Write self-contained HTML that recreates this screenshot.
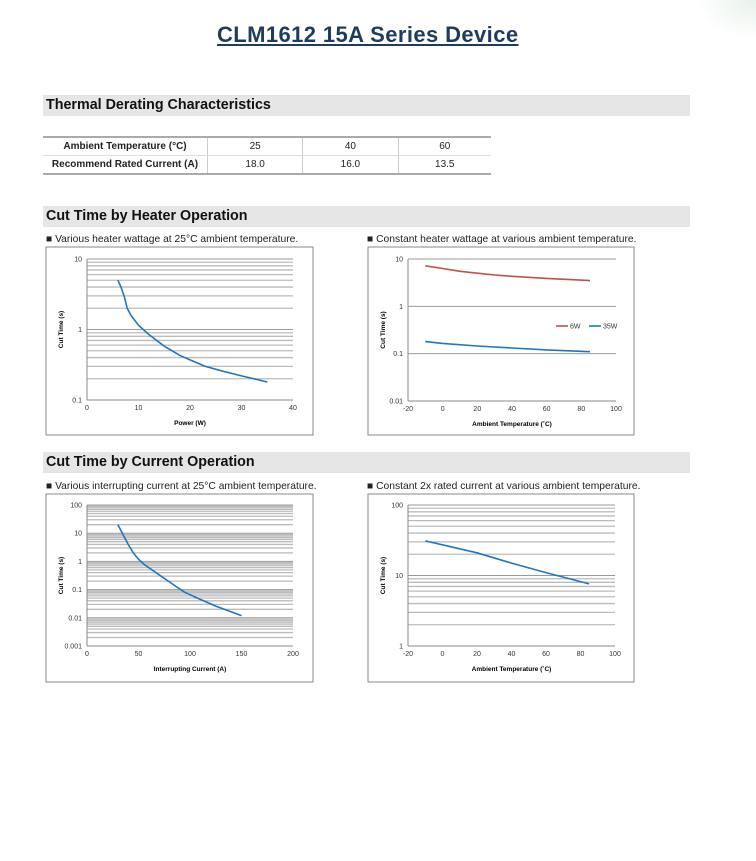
<!DOCTYPE html>
<html><head><meta charset="utf-8"><style>
body{margin:0;width:756px;height:861px;background:#fff;position:relative;overflow:hidden;font-family:"Liberation Sans",sans-serif;}
.a{position:absolute}
.title{left:217px;top:22px;font-size:22px;font-weight:bold;color:#1f3b5e;text-decoration:underline;letter-spacing:0.4px}
.bar{left:43px;width:647px;height:21px;background:#e6e6e6;font-size:14.3px;font-weight:bold;color:#111;line-height:21px;padding-left:3px;box-sizing:border-box}
.sub{font-size:10.3px;color:#222}
table{border-collapse:collapse;font-size:10px;position:absolute;left:43px;top:136px;width:448px}
td{height:17px;text-align:center;border-left:1px solid #ccc;padding:0;color:#222}
td:first-child{border-left:none;font-weight:bold;width:164px}
tr:first-child td{border-top:2px solid #aaa;border-bottom:1px solid #ddd}
tr:last-child td{border-bottom:2px solid #aaa}
svg{position:absolute;left:0;top:0}
</style></head><body>
<div class="a" style="right:0;top:0;width:60px;height:40px;background:radial-gradient(ellipse at 100% 0%,#e6f2ea 0%,#fff 70%)"></div>
<div class="a title">CLM1612 15A Series Device</div>
<div class="a bar" style="top:95px">Thermal Derating Characteristics</div>
<table><tr><td>Ambient Temperature (°C)</td><td>25</td><td>40</td><td>60</td></tr>
<tr><td>Recommend Rated Current (A)</td><td>18.0</td><td>16.0</td><td>13.5</td></tr></table>
<div class="a bar" style="top:206px">Cut Time by Heater Operation</div>
<div class="a sub" style="left:46px;top:234px">■ Various heater wattage at 25°C ambient temperature.</div>
<div class="a sub" style="left:367px;top:234px">■ Constant heater wattage at various ambient temperature.</div>
<div class="a bar" style="top:452px">Cut Time by Current Operation</div>
<div class="a sub" style="left:46px;top:481px">■ Various interrupting current at 25°C ambient temperature.</div>
<div class="a sub" style="left:367px;top:481px">■ Constant 2x rated current at various ambient temperature.</div>
<svg id="s" width="756" height="861" font-family="Liberation Sans, sans-serif"></svg>
<script>
var s=document.getElementById('s'),h='';
function chart(o){
 h+='<rect x="'+o.bx+'" y="'+o.by+'" width="'+o.bw+'" height="'+o.bh+'" fill="none" stroke="#888"/>';
 var X=function(v){return o.x0+(v-o.xmin)/(o.xmax-o.xmin)*(o.x1-o.x0)};
 var Y=function(v){return o.y0+(o.lmax-Math.log10(v))/(o.lmax-o.lmin)*(o.y1-o.y0)};
 for(var d=o.lmin;d<o.lmax;d++){for(var m=1;m<10;m++){var y=Y(m*Math.pow(10,d));
  if(o.minor||m==1)h+='<line x1="'+o.x0+'" x2="'+o.x1+'" y1="'+y+'" y2="'+y+'" stroke="'+(m==1?'#999':'#bbb')+'" stroke-width="'+(m==1?1:1.3)+'"/>';}}
 h+='<line x1="'+o.x0+'" x2="'+o.x1+'" y1="'+o.y0+'" y2="'+o.y0+'" stroke="#999"/>';
 h+='<line x1="'+o.x0+'" x2="'+o.x0+'" y1="'+o.y0+'" y2="'+o.y1+'" stroke="#888"/><line x1="'+o.x0+'" x2="'+o.x1+'" y1="'+o.y1+'" y2="'+o.y1+'" stroke="#888"/>';
 for(var d=o.lmin;d<=o.lmax;d++){var v=Math.pow(10,d);h+='<text x="'+(o.x0-5)+'" y="'+(Y(v)+2.5)+'" font-size="7" text-anchor="end" fill="#333">'+(+v.toFixed(3))+'</text>';}
 o.xt.forEach(function(v){h+='<text x="'+X(v)+'" y="'+(o.y1+10)+'" font-size="7" text-anchor="middle" fill="#333">'+v+'</text>';});
 h+='<text x="'+((o.x0+o.x1)/2)+'" y="'+(o.y1+25)+'" font-size="6.5" font-weight="bold" text-anchor="middle">'+o.xl+'</text>';
 var cy=(o.y0+o.y1)/2;h+='<text transform="translate('+(o.bx+17)+','+cy+') rotate(-90)" font-size="6.5" font-weight="bold" text-anchor="middle">Cut Time (s)</text>';
 o.series.forEach(function(sr){var p=sr.p.map(function(q){return X(q[0]).toFixed(1)+','+Y(q[1]).toFixed(1)}).join(' ');
  h+='<polyline points="'+p+'" fill="none" stroke="'+sr.c+'" stroke-width="1.6" stroke-linejoin="round"/>';});
}
chart({bx:46,by:247,bw:267,bh:188,x0:87,x1:293,y0:259,y1:400,xmin:0,xmax:40,lmin:-1,lmax:1,minor:1,xt:[0,10,20,30,40],xl:'Power (W)',
 series:[{c:'#1f77c0',p:[[6,5],[6.6,4],[7.2,3],[7.8,2],[8.5,1.6],[10,1.15],[12,0.85],[15,0.58],[18,0.43],[20,0.37],[23,0.3],[26,0.26],[30,0.22],[35,0.18]]}]});
chart({bx:368,by:247,bw:266,bh:188,x0:408,x1:616,y0:259,y1:401,xmin:-20,xmax:100,lmin:-2,lmax:1,minor:0,xt:[-20,0,20,40,60,80,100],xl:'Ambient Temperature (˚C)',
 series:[{c:'#c0504d',p:[[-10,7.2],[0,6.3],[10,5.5],[20,5],[30,4.6],[40,4.3],[60,3.9],[85,3.5]]},{c:'#1f77c0',p:[[-10,0.18],[0,0.165],[20,0.145],[40,0.132],[60,0.12],[85,0.11]]}]});
chart({bx:46,by:494,bw:267,bh:188,x0:87,x1:293,y0:505,y1:646,xmin:0,xmax:200,lmin:-3,lmax:2,minor:1,xt:[0,50,100,150,200],xl:'Interrupting Current (A)',
 series:[{c:'#1f77c0',p:[[30,20],[35,9],[40,4],[45,2],[50,1.2],[55,0.8],[65,0.45],[75,0.25],[85,0.14],[95,0.08],[110,0.045],[125,0.026],[150,0.012]]}]});
chart({bx:368,by:494,bw:266,bh:188,x0:408,x1:615,y0:505,y1:646,xmin:-20,xmax:100,lmin:0,lmax:2,minor:1,xt:[-20,0,20,40,60,80,100],xl:'Ambient Temperature (˚C)',
 series:[{c:'#1f77c0',p:[[-10,31],[5,25.5],[20,21],[40,15],[60,11],[85,7.6]]}]});
h+='<line x1="556" x2="568" y1="326" y2="326" stroke="#c0504d" stroke-width="1.6"/><text x="570" y="328.5" font-size="7" fill="#333">6W</text>';
h+='<line x1="589" x2="601" y1="326" y2="326" stroke="#1f77c0" stroke-width="1.6"/><text x="603" y="328.5" font-size="7" fill="#333">35W</text>';
s.innerHTML=h;
</script>
</body></html>
